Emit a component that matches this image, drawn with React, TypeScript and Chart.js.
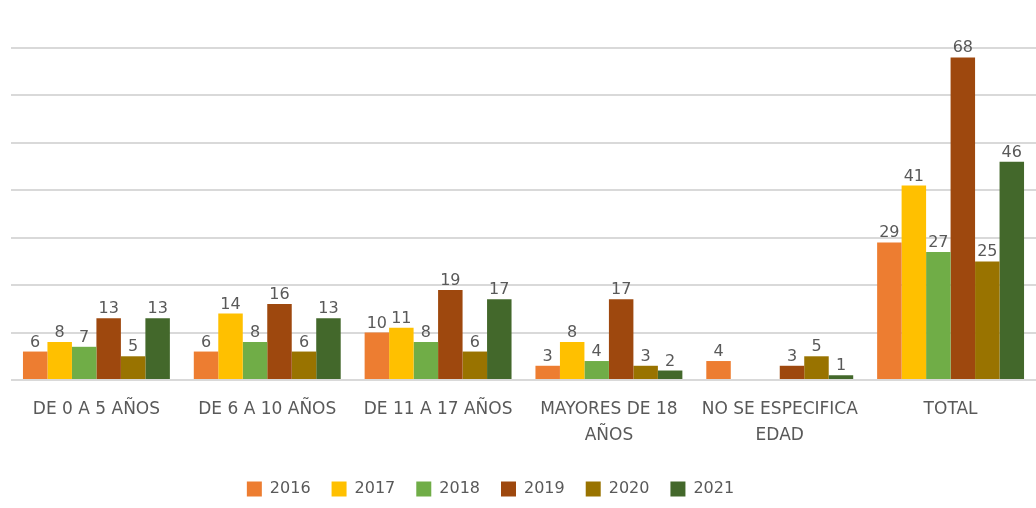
import React, { useEffect, useRef } from "react";
import { Chart, registerables } from "chart.js";

Chart.register(...registerables);

const categories: (string | string[])[] = [
  "DE 0 A 5 AÑOS",
  "DE 6 A 10 AÑOS",
  "DE 11 A 17 AÑOS",
  ["MAYORES DE 18", "AÑOS"],
  ["NO SE ESPECIFICA", "EDAD"],
  "TOTAL",
];

const years = ["2016", "2017", "2018", "2019", "2020", "2021"];

const v2016 = [6, 6, 10, 3, 4, 29];
const v2017 = [8, 14, 11, 8, null, 41];
const v2018 = [7, 8, 8, 4, null, 27];
const v2019 = [13, 16, 19, 17, 3, 68];
const v2020 = [5, 6, 6, 3, 5, 25];
const v2021 = [13, 13, 17, 2, 1, 46];

const seriesValues = [v2016, v2017, v2018, v2019, v2020, v2021];
const colors = ["#ED7D31", "#FFC000", "#70AD47", "#9E480E", "#997300", "#43682B"];

const yTickStep = 10;
const yMax = 70;

const FONT = "'DejaVu Sans', sans-serif";
const TEXT = "#595959";

const dataLabels = {
  id: "dataLabels",
  afterDatasetsDraw(chart: any) {
    const ctx = chart.ctx;
    ctx.save();
    ctx.font = `16px ${FONT}`;
    ctx.fillStyle = TEXT;
    ctx.textAlign = "center";
    ctx.textBaseline = "alphabetic";
    chart.data.datasets.forEach((ds: any, i: number) => {
      const meta = chart.getDatasetMeta(i);
      meta.data.forEach((el: any, j: number) => {
        const v = ds.data[j];
        if (v === null || v === undefined) return;
        ctx.fillText(String(v), el.x, el.y - 5);
      });
    });
    ctx.restore();
  },
};

const legendShift = {
  id: "legendShift",
  afterLayout(chart: any) {
    const lg = chart.legend;
    if (!lg) return;
    const dx = -33;
    const dy = 3;
    lg.left += dx;
    lg.right += dx;
    lg.top += dy;
    lg.bottom += dy;
  },
};

export default function App() {
  const ref = useRef<HTMLCanvasElement>(null);
  useEffect(() => {
    if (!ref.current) return;
    const chart = new Chart(ref.current, {
      type: "bar",
      data: {
        labels: categories,
        datasets: years.map((y, i) => ({
          label: y,
          data: seriesValues[i],
          backgroundColor: colors[i],
          borderWidth: 0,
          categoryPercentage: 0.86,
          barPercentage: 1,
        })),
      },
      options: {
        responsive: false,
        animation: false,
        layout: { padding: { top: 48, left: 11, right: 0, bottom: 4 } },
        scales: {
          x: {
            grid: { display: false },
            border: { display: false },
            ticks: {
              color: TEXT,
              font: { family: FONT, size: 17, lineHeight: 1.5 },
              padding: 9,
              maxRotation: 0,
              autoSkip: false,
            },
          },
          y: {
            min: 0,
            max: yMax,
            ticks: { display: false, stepSize: yTickStep },
            border: { display: false },
            grid: { color: "#D9D9D9", lineWidth: 2, drawTicks: false },
          },
        },
        plugins: {
          legend: {
            position: "bottom",
            labels: {
              color: TEXT,
              font: { family: FONT, size: 16 },
              boxWidth: 15,
              boxHeight: 15,
              padding: 21,
            },
          },
          tooltip: { enabled: false },
        },
      },
      plugins: [dataLabels, legendShift],
    });
    return () => chart.destroy();
  }, []);
  return (
    <div style={{ position: "fixed", left: 0, top: 0, width: 1036, height: 508, background: "#fff" }}>
      <canvas ref={ref} width={1036} height={508} />
    </div>
  );
}
